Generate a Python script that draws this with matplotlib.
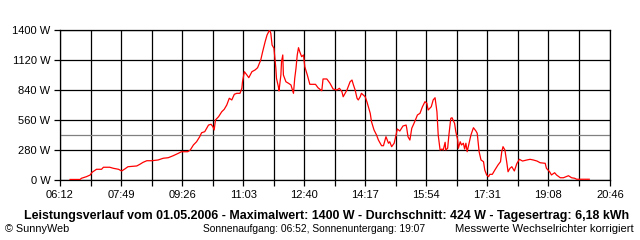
import numpy as np
import matplotlib
matplotlib.use('Agg')
import matplotlib.pyplot as plt

# Leistungsverlauf 01.05.2006 (Zeit, Leistung in W)
zeiten = ['06:28', '06:44', '06:46', '06:54', '07:00', '07:03', '07:10', '07:18', '07:21', '07:31',
          '07:37', '07:45', '07:50', '07:55', '08:00', '08:14', '08:19', '08:24', '08:30', '08:38',
          '08:48', '08:56', '09:04', '09:12', '09:20', '09:25', '09:35', '09:39', '09:44', '09:49',
          '09:54', '09:57', '10:02', '10:08', '10:12', '10:15', '10:17', '10:19', '10:24', '10:29',
          '10:33', '10:37', '10:41', '10:45', '10:49', '10:53', '10:58', '11:01', '11:02', '11:05',
          '11:09', '11:12', '11:17', '11:22', '11:26', '11:31', '11:34', '11:38', '11:41', '11:45',
          '11:47', '11:49', '11:52', '11:55', '11:56', '11:59', '12:00', '12:03', '12:04', '12:06',
          '12:07', '12:11', '12:15', '12:19', '12:23', '12:25', '12:27', '12:29', '12:31', '12:33',
          '12:36', '12:39', '12:41', '12:45', '12:49', '12:58', '13:02', '13:08', '13:10', '13:16',
          '13:21', '13:26', '13:32', '13:36', '13:40', '13:42', '13:48', '13:53', '13:56', '13:58',
          '14:01', '14:04', '14:06', '14:09', '14:11', '14:14', '14:17', '14:20', '14:25', '14:27',
          '14:31', '14:35', '14:38', '14:43', '14:46', '14:50', '14:54', '14:56', '14:59', '15:03',
          '15:06', '15:08', '15:12', '15:17', '15:22', '15:23', '15:25', '15:28', '15:31', '15:35',
          '15:40', '15:44', '15:48', '15:52', '15:55', '15:57', '16:02', '16:05', '16:08', '16:11',
          '16:13', '16:16', '16:19', '16:21', '16:24', '16:25', '16:28', '16:30', '16:33', '16:35',
          '16:39', '16:41', '16:44', '16:45', '16:48', '16:50', '16:53', '16:55', '16:57', '16:59',
          '17:02', '17:05', '17:09', '17:13', '17:15', '17:18', '17:21', '17:25', '17:27', '17:30',
          '17:33', '17:35', '17:39', '17:43', '17:48', '17:52', '17:54', '17:56', '17:59', '18:02',
          '18:04', '18:07', '18:10', '18:14', '18:18', '18:22', '18:27', '18:34', '18:39', '18:44',
          '18:50', '18:55', '19:03', '19:05', '19:10', '19:13', '19:18', '19:21', '19:27', '19:32',
          '19:40', '19:45', '19:50', '19:53', '20:13']
leistung = [5, 5, 16, 31, 47, 72, 100, 100, 119, 119,
            109, 100, 84, 103, 124, 131, 147, 165, 180, 180,
            187, 203, 208, 227, 249, 264, 264, 280, 327, 357,
            404, 441, 451, 513, 520, 497, 467, 560, 591, 637,
            660, 700, 763, 747, 800, 809, 809, 856, 917, 1011,
            980, 955, 1011, 1027, 1048, 1120, 1197, 1291, 1353, 1400,
            1369, 1260, 1229, 1042, 949, 871, 831, 980, 1104, 1167,
            980, 917, 903, 887, 809, 949, 1042, 1167, 1235, 1197,
            1151, 1167, 1057, 980, 893, 893, 861, 833, 943, 943,
            903, 849, 840, 856, 824, 777, 840, 917, 933, 893,
            840, 763, 747, 777, 809, 793, 777, 725, 622, 544,
            467, 420, 373, 320, 320, 404, 343, 357, 311, 343,
            420, 476, 457, 504, 513, 483, 404, 373, 483, 535,
            607, 622, 684, 731, 716, 653, 684, 747, 768, 637,
            420, 280, 289, 280, 352, 280, 296, 420, 576, 581,
            529, 451, 373, 296, 357, 327, 343, 289, 343, 264,
            343, 420, 488, 457, 436, 264, 187, 171, 93, 47,
            31, 53, 53, 93, 140, 171, 264, 311, 280, 163,
            77, 109, 124, 84, 154, 193, 177, 187, 193, 187,
            177, 161, 156, 109, 77, 47, 68, 47, 21, 21,
            40, 21, 16, 7, 7]

durchschnitt = 424
x_labels = ['06:12', '07:49', '09:26', '11:03', '12:40', '14:17', '15:54', '17:31', '19:08', '20:46']
y_ticks = [0, 280, 560, 840, 1120, 1400]


def minuten(s):
    h, m = s.split(':')
    return int(h) * 60 + int(m)


t = [minuten(z) for z in zeiten]
major = [minuten(z) for z in x_labels]
minor = [(a + b) / 2 for a, b in zip(major[:-1], major[1:])]

plt.rcParams['font.family'] = ['Liberation Sans', 'DejaVu Sans']

fig = plt.figure(figsize=(6.4, 2.4), dpi=100)
ax = fig.add_axes([60 / 640, 60 / 240, 550 / 640, 150 / 240])

ax.plot(t, leistung, color='#ff0000', lw=0.9, zorder=3)
ax.axhline(durchschnitt, color='#808080', lw=0.9, zorder=2)

ax.set_xlim(major[0], major[-1])
ax.set_ylim(0, 1400)
ax.set_xticks(major)
ax.set_xticklabels(x_labels)
ax.set_xticks(minor, minor=True)
ax.set_yticks(y_ticks)
ax.set_yticklabels([f'{v} W' for v in y_ticks])
ax.grid(True, which='both', color='black', lw=0.9)
ax.tick_params(which='both', direction='out', length=4, width=0.9, color='black',
               labelsize=8, pad=3)
for s in ax.spines.values():
    s.set_color('black')
    s.set_linewidth(0.9)

fig.text(327 / 640, 1 - 216 / 240,
         'Leistungsverlauf vom 01.05.2006 - Maximalwert: 1400 W - Durchschnitt: 424 W - Tagesertrag: 6,18 kWh',
         ha='center', va='center', fontsize=8.9, fontweight='bold')
fig.text(5 / 640, 1 - 229 / 240, '© SunnyWeb', ha='left', va='center', fontsize=7.8)
fig.text(203 / 640, 1 - 229 / 240, 'Sonnenaufgang: 06:52, Sonnenuntergang: 19:07',
         ha='left', va='center', fontsize=7.4)
fig.text(634 / 640, 1 - 229 / 240, 'Messwerte Wechselrichter korrigiert',
         ha='right', va='center', fontsize=8.1)

fig.savefig('out.png', dpi=100)
